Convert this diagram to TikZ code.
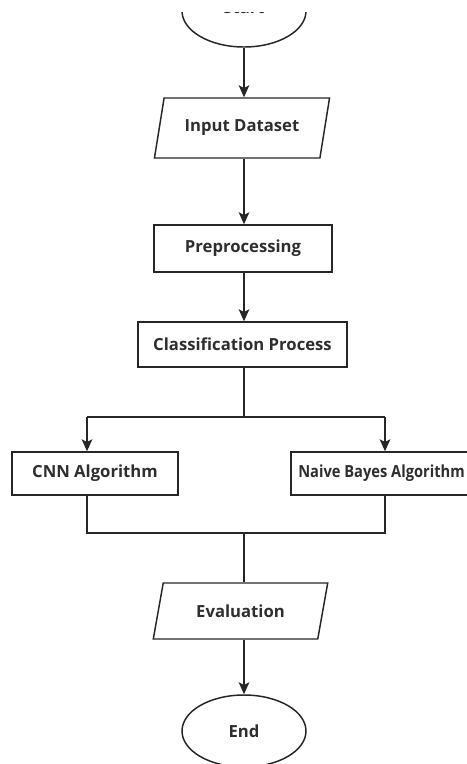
\documentclass[tikz,border=0pt]{standalone}
\usepackage{fontspec}
\setmainfont{Open Sans}
\usetikzlibrary{shapes.geometric,arrows.meta}
\begin{document}
\begin{tikzpicture}[x=0.75pt,y=-0.75pt,
  line width=1.1pt,
  base/.style={draw=black!85, line width=1.1pt, font=\fontsize{12.5}{14}\selectfont\bfseries, text=black!82, inner sep=0pt},
  term/.style={base, ellipse, minimum width=124*0.75pt, minimum height=72*0.75pt},
  io/.style={base, trapezium, trapezium left angle=66, trapezium right angle=114, trapezium stretches=true},
  proc/.style={base, rectangle},
  arr/.style={-{Stealth[length=9pt,width=8pt,inset=2pt]}, draw=black!85},
  ln/.style={draw=black!85}]
\useasboundingbox (0,0) rectangle (467,764);
\node[term] (start) at (244,11) {\raisebox{6pt}{Start}};
\fill[white] (0,-5) rectangle (467,12);
\node[io, minimum width=176*0.75pt, minimum height=60*0.75pt] (input) at (242,128) {Input Dataset};
\node[proc, minimum width=178*0.75pt, minimum height=47*0.75pt] (prep) at (243,248.5) {Preprocessing};
\node[proc, minimum width=209*0.75pt, minimum height=45*0.75pt] (class) at (242.5,344.5) {Classification Process};
\node[proc, minimum width=166*0.75pt, minimum height=43*0.75pt] (cnn) at (95,473.5) {CNN Algorithm};
\node[proc, minimum width=181*0.75pt, minimum height=43*0.75pt] (nb) at (381.5,473.5) {\scalebox{0.88}[1]{Naive Bayes Algorithm}};
\node[io, minimum width=175*0.75pt, minimum height=56*0.75pt] (eval) at (240.5,611) {Evaluation};
\node[term, minimum height=72*0.75pt] (end) at (244,731) {End};
\coordinate (split) at (244,417);
\coordinate (cnnin) at (87,417);
\coordinate (nbin) at (385,417);
\coordinate (join) at (244,533);
\coordinate (cnnout) at (87,533);
\coordinate (nbout) at (385,533);
\draw[arr] (start.south) -- (start.south |- input.north);
\draw[arr] (start.south |- input.south) -- (start.south |- prep.north);
\draw[arr] (start.south |- prep.south) -- (start.south |- class.north);
\draw[ln] (start.south |- class.south) -- (split);
\draw[ln] (cnnin) -- (nbin);
\draw[arr] (cnnin) -- (cnnin |- cnn.north);
\draw[arr] (nbin) -- (nbin |- nb.north);
\draw[ln] (cnnin |- cnn.south) -- (cnnout) -- (nbout) -- (nbin |- nb.south);
\draw[ln] (join) -- (join |- eval.north);
\draw[arr] (join |- eval.south) -- (end.north);
\end{tikzpicture}
\end{document}
